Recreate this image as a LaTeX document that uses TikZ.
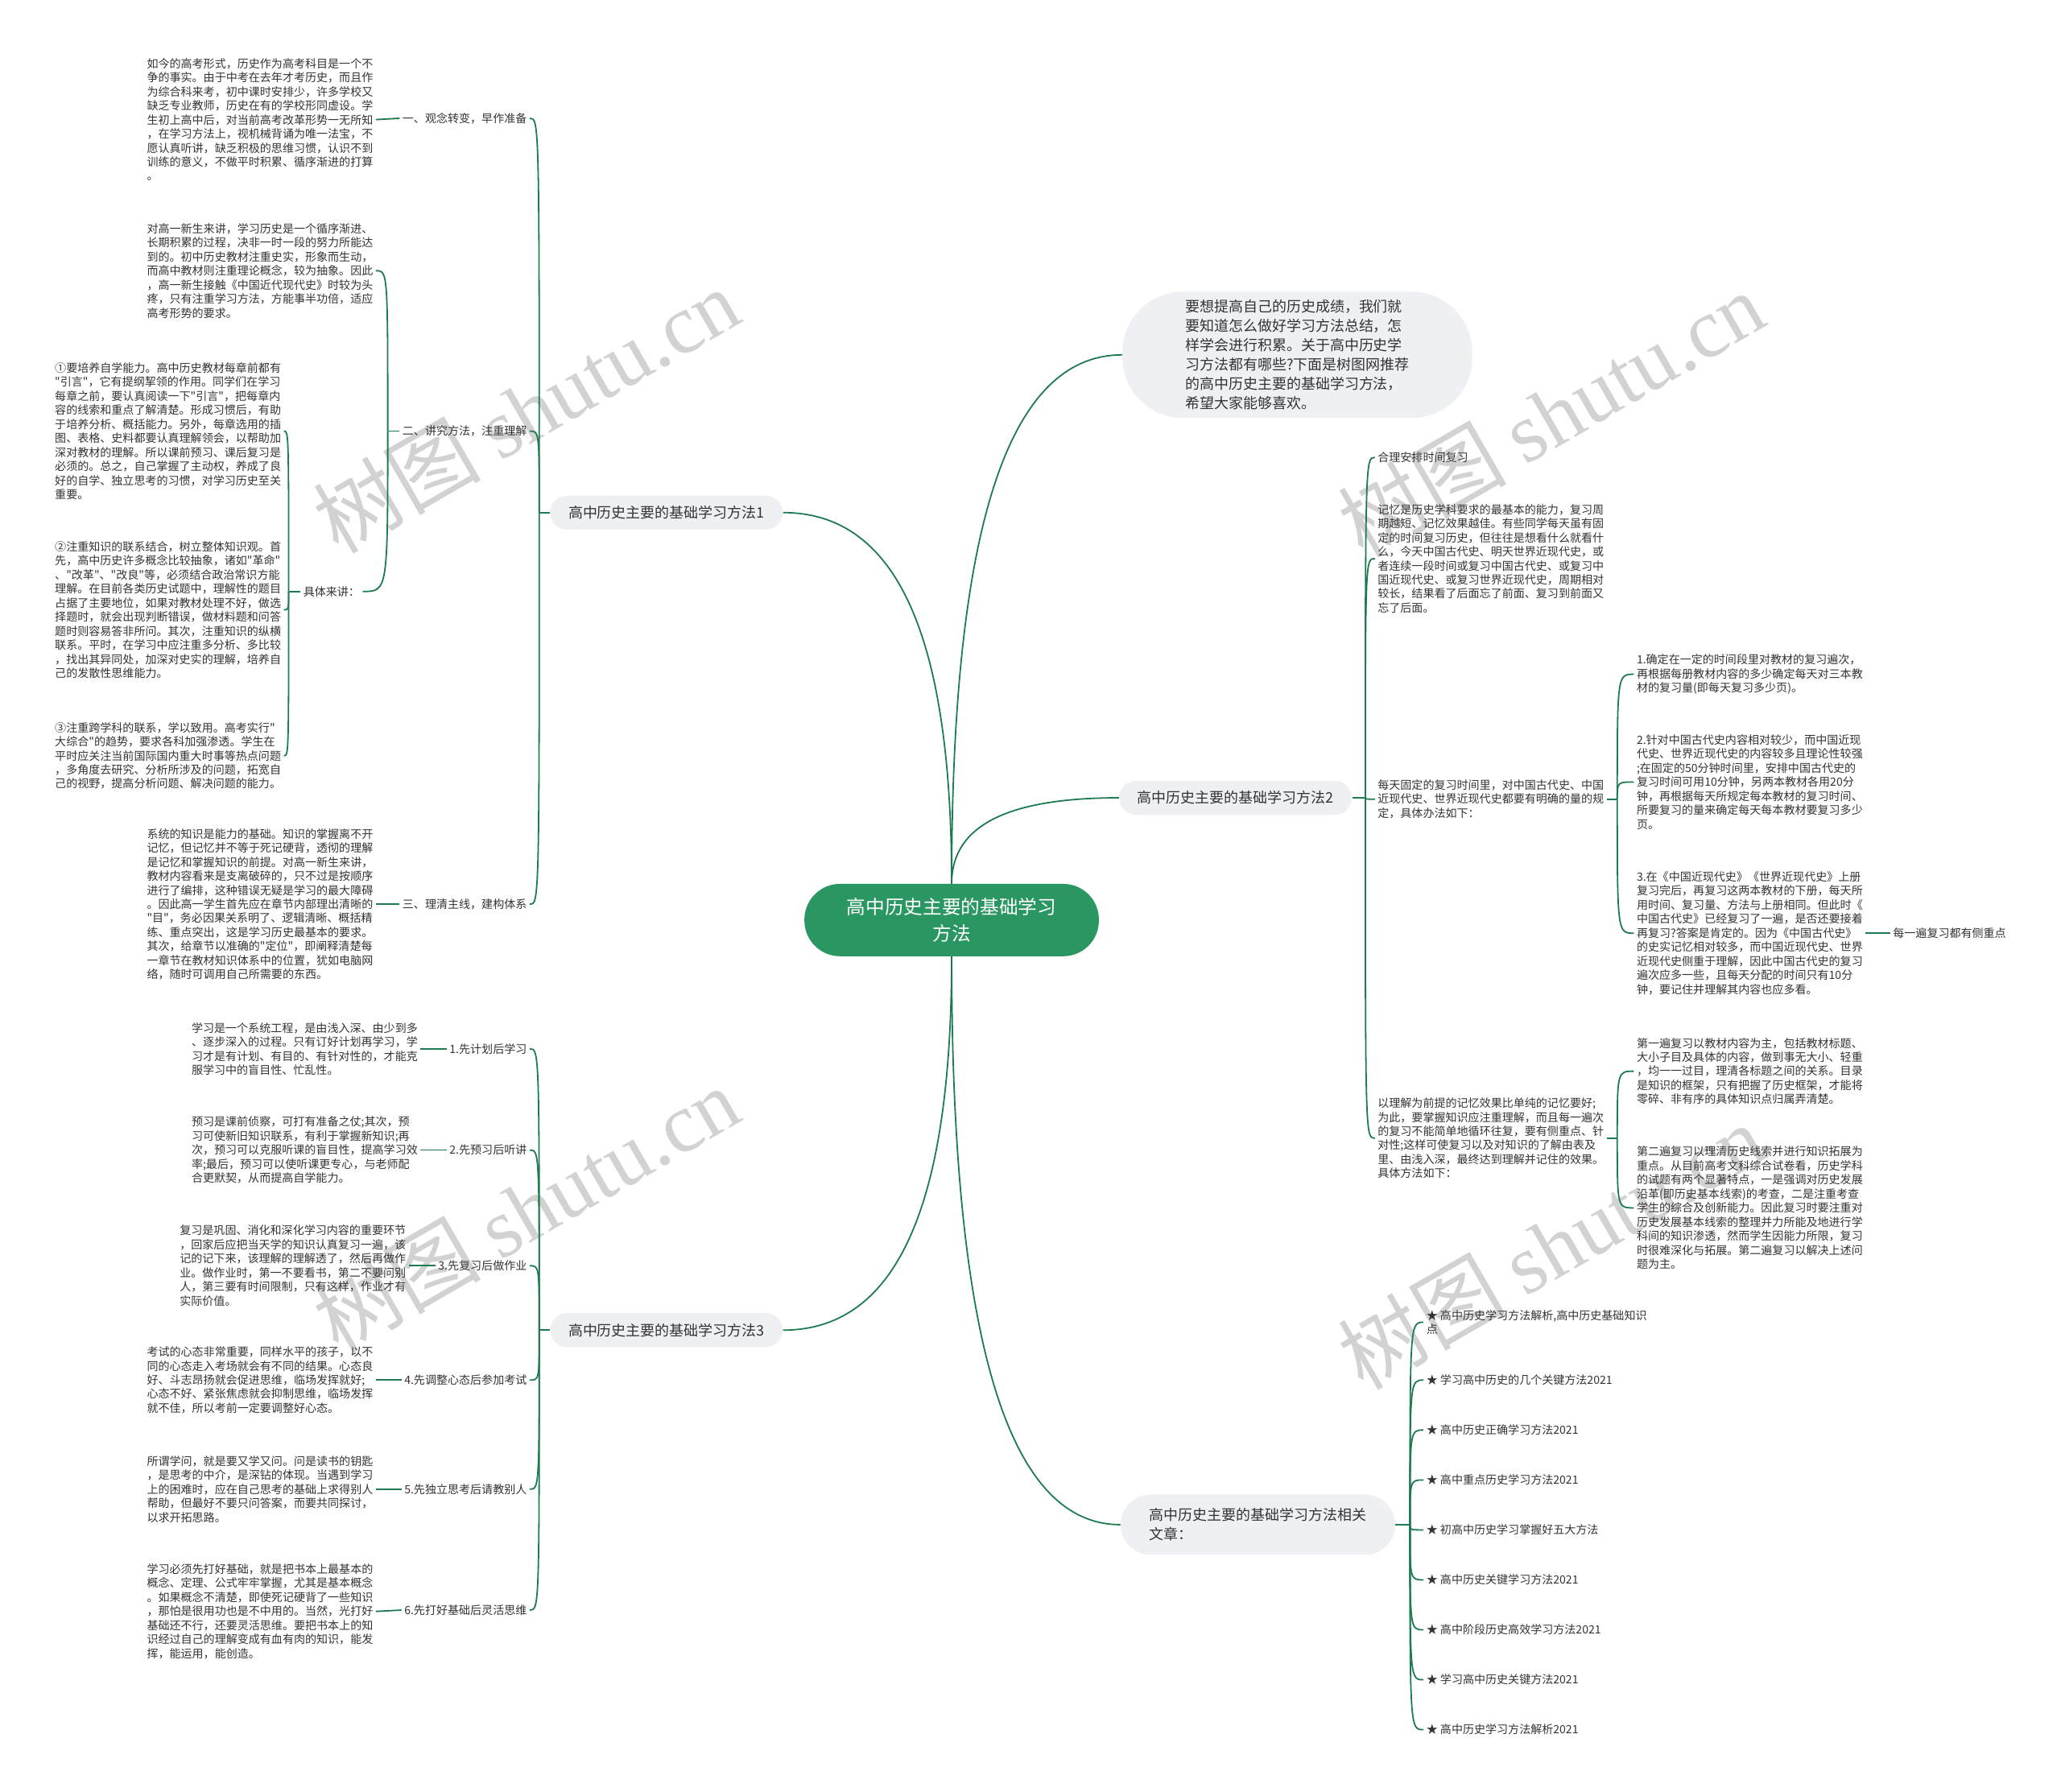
\documentclass[tikz,border=0pt]{standalone}
\usepackage{fontspec}
\setmainfont{Noto Sans CJK SC}
\newfontfamily\cnfont{Noto Sans CJK SC}
\newfontfamily\wmserif{Liberation Serif}
\usepackage{tikz}
\usetikzlibrary{calc}
\definecolor{linegreen}{RGB}{30,122,80}
\definecolor{rootgreen}{RGB}{42,150,98}
\definecolor{pillgrey}{RGB}{238,240,243}
\definecolor{txtgrey}{RGB}{51,51,51}
\definecolor{wmgrey}{RGB}{210,210,210}
\newcommand{\cnsmall}{\cnfont\fontsize{8.6}{10.7}\selectfont}
\newcommand{\cnmid}{\cnfont\fontsize{11}{14.7}\selectfont}
\newcommand{\cnroot}{\cnfont\fontsize{14.5}{20}\selectfont}
\newcommand{\mainlink}[2]{\draw[link] (#1) .. controls ($(#1)!0.61!(#1 |- #2)$) and ($(#2)!0.73!(#1 |- #2)$) .. (#2);}
\tikzset{
  rootbox/.style={rounded corners=27pt, fill=rootgreen, text=white, align=center, font=\cnroot, minimum width=224pt, minimum height=55pt, inner sep=0pt},
  pill/.style={rounded corners=13pt, fill=pillgrey, text=txtgrey, font=\cnmid, minimum height=26pt, inner xsep=14pt, inner ysep=0pt},
  leaf/.style={font=\cnsmall, text=txtgrey, inner sep=2pt},
  para/.style={font=\cnsmall, text=txtgrey, align=left, inner sep=2pt},
  link/.style={draw=linegreen, line width=1.1pt},
  wm/.style={text=wmgrey, font=\cnfont\fontsize{64}{64}\selectfont, inner sep=0pt, rotate=30},
}

\begin{document}
\begin{tikzpicture}[x=1pt, y=-1pt]
  \fill[white] (0,0) rectangle (1568,1363);
  \useasboundingbox (0,0) rectangle (1568,1363);

  % watermarks
  \node[wm] (wm1) at (400,312) {树图 {\wmserif shutu.cn}};
  \node[wm] (wm2) at (1180,315) {树图 {\wmserif shutu.cn}};
  \node[wm] (wm3) at (400,920) {树图 {\wmserif shutu.cn}};
  \node[wm] (wm4) at (1180,948) {树图 {\wmserif shutu.cn}};

  % centre and main branches
  \node[rootbox] (root) at (724,700) {高中历史主要的基础学习\\方法};
  \node[pill, rounded corners=46pt, align=left, inner xsep=48pt, minimum height=96pt] (intro) at (987,270) {要想提高自己的历史成绩，我们就\\要知道怎么做好学习方法总结，怎\\样学会进行积累。关于高中历史学\\习方法都有哪些?下面是树图网推荐\\的高中历史主要的基础学习方法，\\希望大家能够喜欢。};
  \node[pill] (m1) at (507,390) {高中历史主要的基础学习方法1};
  \node[pill] (m2) at (940,607) {高中历史主要的基础学习方法2};
  \node[pill] (m3) at (507,1012) {高中历史主要的基础学习方法3};
  \node[pill, rounded corners=23pt, align=left, inner xsep=22pt, minimum height=46pt] (m4) at (957,1160) {高中历史主要的基础学习方法相关\\文章：};

  \mainlink{root.north}{m1.east}
  \mainlink{root.north}{intro.west}
  \mainlink{root.north}{m2.west}
  \mainlink{root.south}{m3.east}
  \mainlink{root.south}{m4.west}

  % method 1
  \node[leaf, anchor=east] (a1) at (403,90) {一、观念转变，早作准备};
  \node[leaf, anchor=east] (a2) at (403,328) {二、讲究方法，注重理解};
  \node[leaf, anchor=east] (a3) at (403,688) {三、理清主线，建构体系};
  \node[para, anchor=east] (p1) at (286,91) {如今的高考形式，历史作为高考科目是一个不\\争的事实。由于中考在去年才考历史，而且作\\为综合科来考，初中课时安排少，许多学校又\\缺乏专业教师，历史在有的学校形同虚设。学\\生初上高中后，对当前高考改革形势一无所知\\，在学习方法上，视机械背诵为唯一法宝，不\\愿认真听讲，缺乏积极的思维习惯，认识不到\\训练的意义，不做平时积累、循序渐进的打算\\。};
  \node[para, anchor=east] (p2) at (286,206) {对高一新生来讲，学习历史是一个循序渐进、\\长期积累的过程，决非一时一段的努力所能达\\到的。初中历史教材注重史实，形象而生动，\\而高中教材则注重理论概念，较为抽象。因此\\，高一新生接触《中国近代现代史》时较为头\\疼，只有注重学习方法，方能事半功倍，适应\\高考形势的要求。};
  \node[leaf, anchor=east] (b1) at (276,450) {具体来讲：};
  \node[para, anchor=east] (q1) at (216,328) {①要培养自学能力。高中历史教材每章前都有\\"引言"，它有提纲挈领的作用。同学们在学习\\每章之前，要认真阅读一下"引言"，把每章内\\容的线索和重点了解清楚。形成习惯后，有助\\于培养分析、概括能力。另外，每章选用的插\\图、表格、史料都要认真理解领会，以帮助加\\深对教材的理解。所以课前预习、课后复习是\\必须的。总之，自己掌握了主动权，养成了良\\好的自学、独立思考的习惯，对学习历史至关\\重要。};
  \node[para, anchor=east] (q2) at (216,464) {②注重知识的联系结合，树立整体知识观。首\\先，高中历史许多概念比较抽象，诸如"革命"\\、"改革"、"改良"等，必须结合政治常识方能\\理解。在目前各类历史试题中，理解性的题目\\占据了主要地位，如果对教材处理不好，做选\\择题时，就会出现判断错误，做材料题和问答\\题时则容易答非所问。其次，注重知识的纵横\\联系。平时，在学习中应注重多分析、多比较\\，找出其异同处，加深对史实的理解，培养自\\己的发散性思维能力。};
  \node[para, anchor=east] (q3) at (216,575) {③注重跨学科的联系，学以致用。高考实行"\\大综合"的趋势，要求各科加强渗透。学生在\\平时应关注当前国际国内重大时事等热点问题\\，多角度去研究、分析所涉及的问题，拓宽自\\己的视野，提高分析问题、解决问题的能力。};
  \node[para, anchor=east] (p3) at (286,688) {系统的知识是能力的基础。知识的掌握离不开\\记忆，但记忆并不等于死记硬背，透彻的理解\\是记忆和掌握知识的前提。对高一新生来讲，\\教材内容看来是支离破碎的，只不过是按顺序\\进行了编排，这种错误无疑是学习的最大障碍\\。因此高一学生首先应在章节内部理出清晰的\\"目"，务必因果关系明了、逻辑清晰、概括精\\练、重点突出，这是学习历史最基本的要求。\\其次，给章节以准确的"定位"，即阐释清楚每\\一章节在教材知识体系中的位置，犹如电脑网\\络，随时可调用自己所需要的东西。};

  \draw[link] (m1.west) -- ++(-8,0) coordinate (m1h);
  \foreach \nd in {a1,a2,a3}
    \draw[link] (m1h) .. controls (m1h |- \nd.east) .. (\nd.east);
  \draw[link] (a1.west) -- (p1.east);
  \draw[link] (a3.west) -- (p3.east);
  \draw[link] (a2.west) -- ++(-9,0) coordinate (a2h);
  \foreach \nd in {p2,b1}
    \draw[link] (a2h) .. controls (a2h |- \nd.east) .. (\nd.east);
  \draw[link] (b1.west) -- ++(-9,0) coordinate (b1h);
  \foreach \nd in {q1,q2,q3}
    \draw[link] (b1h) .. controls (b1h |- \nd.east) .. (\nd.east);

  % method 3
  \node[leaf, anchor=east] (c1) at (403,798) {1.先计划后学习};
  \node[leaf, anchor=east] (c2) at (403,875) {2.先预习后听讲};
  \node[leaf, anchor=east] (c3) at (403,963) {3.先复习后做作业};
  \node[leaf, anchor=east] (c4) at (403,1050) {4.先调整心态后参加考试};
  \node[leaf, anchor=east] (c5) at (403,1133) {5.先独立思考后请教别人};
  \node[leaf, anchor=east] (c6) at (403,1225) {6.先打好基础后灵活思维};
  \node[para, anchor=east] (r1) at (320,798) {学习是一个系统工程，是由浅入深、由少到多\\、逐步深入的过程。只有订好计划再学习，学\\习才是有计划、有目的、有针对性的，才能克\\服学习中的盲目性、忙乱性。};
  \node[para, anchor=east] (r2) at (320,875) {预习是课前侦察，可打有准备之仗;其次，预\\习可使新旧知识联系，有利于掌握新知识;再\\次，预习可以克服听课的盲目性，提高学习效\\率;最后，预习可以使听课更专心，与老师配\\合更默契，从而提高自学能力。};
  \node[para, anchor=east] (r3) at (311,963) {复习是巩固、消化和深化学习内容的重要环节\\，回家后应把当天学的知识认真复习一遍，该\\记的记下来，该理解的理解透了，然后再做作\\业。做作业时，第一不要看书，第二不要问别\\人，第三要有时间限制，只有这样，作业才有\\实际价值。};
  \node[para, anchor=east] (r4) at (286,1050) {考试的心态非常重要，同样水平的孩子，以不\\同的心态走入考场就会有不同的结果。心态良\\好、斗志昂扬就会促进思维，临场发挥就好;\\心态不好、紧张焦虑就会抑制思维，临场发挥\\就不佳，所以考前一定要调整好心态。};
  \node[para, anchor=east] (r5) at (286,1133) {所谓学问，就是要又学又问。问是读书的钥匙\\，是思考的中介，是深钻的体现。当遇到学习\\上的困难时，应在自己思考的基础上求得别人\\帮助，但最好不要只问答案，而要共同探讨，\\以求开拓思路。};
  \node[para, anchor=east] (r6) at (286,1226) {学习必须先打好基础，就是把书本上最基本的\\概念、定理、公式牢牢掌握，尤其是基本概念\\。如果概念不清楚，即使死记硬背了一些知识\\，那怕是很用功也是不中用的。当然，光打好\\基础还不行，还要灵活思维。要把书本上的知\\识经过自己的理解变成有血有肉的知识，能发\\挥，能运用，能创造。};

  \draw[link] (m3.west) -- ++(-8,0) coordinate (m3h);
  \foreach \nd in {c1,c2,c3,c4,c5,c6}
    \draw[link] (m3h) .. controls (m3h |- \nd.east) .. (\nd.east);
  \foreach \nd/\pp in {c1/r1,c2/r2,c3/r3,c4/r4,c5/r5,c6/r6}
    \draw[link] (\nd.west) -- (\pp.east);

  % method 2
  \node[leaf, anchor=west] (d1) at (1046,348) {合理安排时间复习};
  \node[para, anchor=west] (d2) at (1046,425) {记忆是历史学科要求的最基本的能力，复习周\\期越短、记忆效果越佳。有些同学每天虽有固\\定的时间复习历史，但往往是想看什么就看什\\么，今天中国古代史、明天世界近现代史，或\\者连续一段时间或复习中国古代史、或复习中\\国近现代史、或复习世界近现代史，周期相对\\较长，结果看了后面忘了前面、复习到前面又\\忘了后面。};
  \node[para, anchor=west] (d3) at (1046,608) {每天固定的复习时间里，对中国古代史、中国\\近现代史、世界近现代史都要有明确的量的规\\定，具体办法如下：};
  \node[para, anchor=west] (d4) at (1046,866) {以理解为前提的记忆效果比单纯的记忆要好;\\为此，要掌握知识应注重理解，而且每一遍次\\的复习不能简单地循环往复，要有侧重点、针\\对性;这样可使复习以及对知识的了解由表及\\里、由浅入深，最终达到理解并记住的效果。\\具体方法如下：};
  \node[para, anchor=west] (e1) at (1243,513) {1.确定在一定的时间段里对教材的复习遍次，\\再根据每册教材内容的多少确定每天对三本教\\材的复习量(即每天复习多少页)。};
  \node[para, anchor=west] (e2) at (1243,595) {2.针对中国古代史内容相对较少，而中国近现\\代史、世界近现代史的内容较多且理论性较强\\;在固定的50分钟时间里，安排中国古代史的\\复习时间可用10分钟，另两本教材各用20分\\钟，再根据每天所规定每本教材的复习时间、\\所要复习的量来确定每天每本教材要复习多少\\页。};
  \node[para, anchor=west] (e3) at (1243,710) {3.在《中国近现代史》《世界近现代史》上册\\复习完后，再复习这两本教材的下册，每天所\\用时间、复习量、方法与上册相同。但此时《\\中国古代史》已经复习了一遍，是否还要接着\\再复习?答案是肯定的。因为《中国古代史》\\的史实记忆相对较多，而中国近现代史、世界\\近现代史侧重于理解，因此中国古代史的复习\\遍次应多一些，且每天分配的时间只有10分\\钟，要记住并理解其内容也应多看。};
  \node[leaf, anchor=west] (e4) at (1438,710) {每一遍复习都有侧重点};
  \node[para, anchor=west] (f1) at (1243,815) {第一遍复习以教材内容为主，包括教材标题、\\大小子目及具体的内容，做到事无大小、轻重\\，均一一过目，理清各标题之间的关系。目录\\是知识的框架，只有把握了历史框架，才能将\\零碎、非有序的具体知识点归属弄清楚。};
  \node[para, anchor=west] (f2) at (1243,919) {第二遍复习以理清历史线索并进行知识拓展为\\重点。从目前高考文科综合试卷看，历史学科\\的试题有两个显著特点，一是强调对历史发展\\沿革(即历史基本线索)的考查，二是注重考查\\学生的综合及创新能力。因此复习时要注重对\\历史发展基本线索的整理并力所能及地进行学\\科间的知识渗透，然而学生因能力所限，复习\\时很难深化与拓展。第二遍复习以解决上述问\\题为主。};

  \draw[link] (m2.east) -- ++(10,0) coordinate (m2h);
  \foreach \nd in {d1,d2,d3,d4}
    \draw[link] (m2h) .. controls (m2h |- \nd.west) .. (\nd.west);
  \draw[link] (d3.east) -- ++(8,0) coordinate (d3h);
  \foreach \nd in {e1,e2,e3}
    \draw[link] (d3h) .. controls (d3h |- \nd.west) .. (\nd.west);
  \draw[link] (e3.east) -- (e4.west);
  \draw[link] (d4.east) -- ++(8,0) coordinate (d4h);
  \foreach \nd in {f1,f2}
    \draw[link] (d4h) .. controls (d4h |- \nd.west) .. (\nd.west);

  % related articles
  \node[para, anchor=west] (g1) at (1083,1006) {★ 高中历史学习方法解析,高中历史基础知识\\点};
  \node[leaf, anchor=west] (g2) at (1083,1050) {★ 学习高中历史的几个关键方法2021};
  \node[leaf, anchor=west] (g3) at (1083,1088) {★ 高中历史正确学习方法2021};
  \node[leaf, anchor=west] (g4) at (1083,1126) {★ 高中重点历史学习方法2021};
  \node[leaf, anchor=west] (g5) at (1083,1164) {★ 初高中历史学习掌握好五大方法};
  \node[leaf, anchor=west] (g6) at (1083,1202) {★ 高中历史关键学习方法2021};
  \node[leaf, anchor=west] (g7) at (1083,1240) {★ 高中阶段历史高效学习方法2021};
  \node[leaf, anchor=west] (g8) at (1083,1278) {★ 学习高中历史关键方法2021};
  \node[leaf, anchor=west] (g9) at (1083,1316) {★ 高中历史学习方法解析2021};

  \draw[link] (m4.east) -- ++(11,0) coordinate (m4h);
  \foreach \nd in {g1,g2,g3,g4,g5,g6,g7,g8,g9}
    \draw[link] (m4h) .. controls (m4h |- \nd.west) .. (\nd.west);
\end{tikzpicture}
\end{document}
